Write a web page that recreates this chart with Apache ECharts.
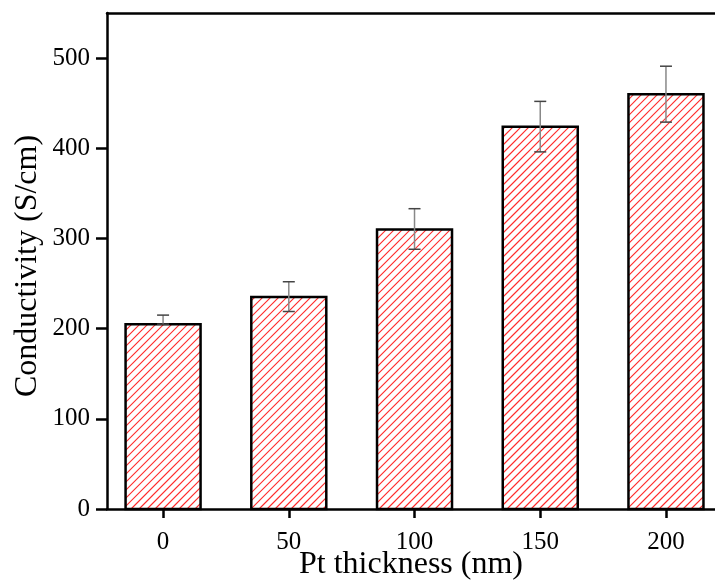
<!DOCTYPE html>
<html>
<head>
<meta charset="utf-8">
<script src="https://cdn.jsdelivr.net/npm/echarts@6/dist/echarts.min.js"></script>
<style>html,body{margin:0;padding:0;background:#fff;}#c{width:715px;height:583px;}</style>
</head>
<body>
<div id="c"></div>
<script>
const thickness = [0, 50, 100, 150, 200];
const conductivity = [205, 235, 310, 424, 460];
const errUp = [10, 17, 23, 28, 31];
const errDown = [0, 16, 22, 28, 31];
const xTicks = [0, 50, 100, 150, 200];
const yTicks = [0, 100, 200, 300, 400, 500];

const font = 'Liberation Serif';
const chart = echarts.init(document.getElementById('c'), null, {renderer: 'canvas'});
const barData = thickness.map((t, i) => [t, conductivity[i]]);
const errData = thickness.map((t, i) => [t, conductivity[i] - errDown[i], conductivity[i] + errUp[i]]);
const BAR_W = 75, HATCH = 8;

function renderBar(params, api) {
  const x = api.value(0);
  const top = api.coord([x, api.value(1)]);
  const base = api.coord([x, 0]);
  const x0 = top[0] - BAR_W / 2, x1 = top[0] + BAR_W / 2;
  const y0 = top[1], y1 = base[1];
  const children = [{
    type: 'rect', shape: {x: x0, y: y0, width: x1 - x0, height: y1 - y0},
    style: {fill: '#ffffff', stroke: null}
  }];
  const cStart = Math.ceil((x0 + y0) / HATCH) * HATCH;
  for (let c = cStart; c <= x1 + y1; c += HATCH) {
    const xa = Math.max(x0, c - y1), xb = Math.min(x1, c - y0);
    if (xb <= xa) continue;
    children.push({
      type: 'line', shape: {x1: xa, y1: c - xa, x2: xb, y2: c - xb},
      style: {stroke: '#ff2a2a', lineWidth: 1.1, opacity: 1}
    });
  }
  children.push({
    type: 'rect', shape: {x: x0, y: y0, width: x1 - x0, height: y1 - y0},
    style: {fill: null, stroke: '#000000', lineWidth: 2.5}
  });
  return {type: 'group', children: children};
}

function renderErr(params, api) {
  const x = api.value(0);
  const lo = api.coord([x, api.value(1)]);
  const hi = api.coord([x, api.value(2)]);
  const w = 6;
  const children = [{
    type: 'line', shape: {x1: lo[0], y1: lo[1], x2: hi[0], y2: hi[1]},
    style: {stroke: '#888888', lineWidth: 1.5}
  }, {
    type: 'line', shape: {x1: hi[0] - w, y1: hi[1], x2: hi[0] + w, y2: hi[1]},
    style: {stroke: '#444444', lineWidth: 1.5}
  }];
  if (api.value(1) < api.value(2)) {
    children.push({
      type: 'line', shape: {x1: lo[0] - w, y1: lo[1], x2: lo[0] + w, y2: lo[1]},
      style: {stroke: '#444444', lineWidth: 1.5}
    });
  }
  return {type: 'group', children: children};
}

chart.setOption({
  backgroundColor: '#fff',
  animation: false,
  grid: {left: 107, right: 0, top: 13, bottom: 74, containLabel: false, outerBoundsMode: 'none'},
  xAxis: [{
    type: 'value', min: -22.3, max: 219.5,
    name: 'Pt thickness (nm)', nameLocation: 'middle', nameGap: 40, nameMoveOverlap: false,
    nameTextStyle: {fontFamily: font, fontSize: 32, color: '#000'},
    axisLine: {show: true, onZero: false, lineStyle: {color: '#000', width: 2.5}},
    axisTick: {show: true, length: 9, customValues: xTicks, lineStyle: {color: '#000', width: 2.5}},
    axisLabel: {customValues: xTicks, margin: 21, fontFamily: font, fontSize: 25, color: '#000'},
    splitLine: {show: false}
  }, {
    type: 'value', position: 'top', min: -22.3, max: 219.5,
    axisLine: {show: true, onZero: false, lineStyle: {color: '#000', width: 2.5}},
    axisTick: {show: false}, axisLabel: {show: false}, splitLine: {show: false}
  }],
  yAxis: {
    type: 'value', min: 0, max: 550,
    name: 'Conductivity (S/cm)', nameLocation: 'middle', nameGap: 63, nameMoveOverlap: false,
    nameTextStyle: {fontFamily: font, fontSize: 32, color: '#000', padding: [0, 10, 0, 0]},
    axisLine: {show: true, onZero: false, lineStyle: {color: '#000', width: 2.5}},
    axisTick: {show: true, length: 11, customValues: yTicks, lineStyle: {color: '#000', width: 2.5}},
    axisLabel: {customValues: yTicks, margin: 17, fontFamily: font, fontSize: 25, color: '#000'},
    splitLine: {show: false}
  },
  series: [{
    type: 'custom',
    data: barData,
    z: 2,
    renderItem: renderBar
  }, {
    type: 'custom',
    data: errData,
    z: 3,
    renderItem: renderErr
  }]
});
</script>
</body>
</html>
